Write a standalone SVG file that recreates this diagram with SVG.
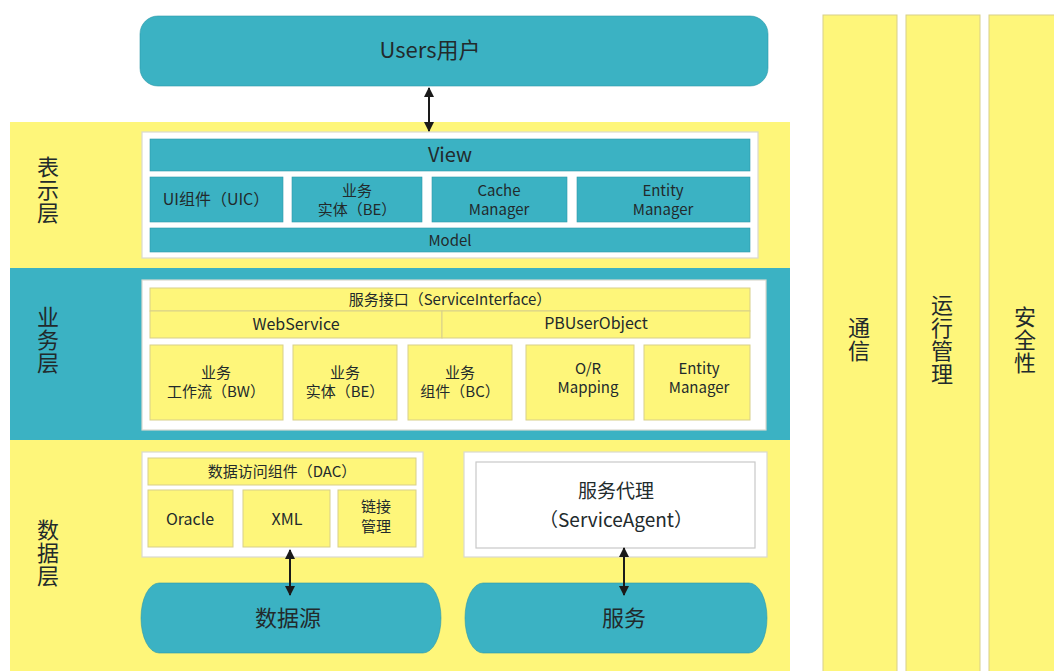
<svg xmlns="http://www.w3.org/2000/svg" width="1054" height="671" viewBox="0 0 1054 671">
<defs>
<marker id="ah" viewBox="0 0 10 10" refX="9" refY="5" markerWidth="10" markerHeight="10" markerUnits="userSpaceOnUse" orient="auto-start-reverse"><path d="M0,0 L10,5 L0,10 z" fill="#1a1a1a"/></marker>
<style>
.y{fill:#FEF67A}
.t{fill:#3BB2C3}
.ty{fill:#FEF67A;stroke:#D8CF8A;stroke-width:1}
.tt{fill:#3BB2C3;stroke:#2E98A8;stroke-width:0.6}
.w{fill:#FFFFFF;stroke:#D9D9CF;stroke-width:1.2}
text{font-family:"Noto Sans CJK SC","Liberation Sans",sans-serif;fill:#222A2C;text-anchor:middle}
.v{writing-mode:vertical-rl;font-size:22px;letter-spacing:1px}
.s15{font-size:15px}
.s16{font-size:16px}
.s19{font-size:19px}
.s20{font-size:20px}
.s22{font-size:22px}
.conn{stroke:#1a1a1a;stroke-width:2;fill:none;marker-start:url(#ah);marker-end:url(#ah)}
</style>
</defs>
<rect width="1054" height="671" fill="#FFFFFF"/>

<g id="layer-presentation">
<rect x="10" y="122" width="780" height="146" class="y"/>
<text class="v" x="48" y="190">表示层</text>
<rect x="142" y="132" width="616" height="126" class="w"/>
</g>
<g id="layer-business">
<rect x="10" y="268" width="780" height="172" class="t"/>
<text class="v" x="48" y="340">业务层</text>
<rect x="142" y="280" width="624" height="150" class="w"/>
</g>
<g id="layer-data">
<rect x="10" y="440" width="780" height="231" class="y"/>
<text class="v" x="48" y="553">数据层</text>
</g>

<g id="users">
<rect x="140" y="16" width="628" height="70" rx="18" class="tt"/>
<text class="s22" x="430" y="58">Users用户</text>
</g>

<g id="view">
<rect x="150" y="139" width="600" height="32" class="tt"/>
<text class="s20" x="450" y="162">View</text>
</g>
<g id="uic">
<rect x="150" y="177" width="133" height="45" class="tt"/>
<text class="s16" x="216" y="205">UI组件（UIC）</text>
</g>
<g id="be1">
<rect x="292" y="177" width="130" height="45" class="tt"/>
<text class="s15" x="357" y="196">业务</text>
<text class="s15" x="357" y="215">实体（BE）</text>
</g>
<g id="cache">
<rect x="432" y="177" width="135" height="45" class="tt"/>
<text class="s15" x="499" y="196">Cache</text>
<text class="s15" x="499" y="215">Manager</text>
</g>
<g id="entity1">
<rect x="577" y="177" width="173" height="45" class="tt"/>
<text class="s15" x="663" y="196">Entity</text>
<text class="s15" x="663" y="215">Manager</text>
</g>
<g id="model">
<rect x="150" y="228" width="600" height="24" class="tt"/>
<text class="s15" x="450" y="246">Model</text>
</g>

<g id="service-interface">
<rect x="150" y="288" width="600" height="23" class="ty"/>
<text class="s15" x="450" y="305">服务接口（ServiceInterface）</text>
</g>
<g id="webservice">
<rect x="150" y="311" width="292" height="27" class="ty"/>
<text class="s16" x="296" y="330">WebService</text>
</g>
<g id="pbuserobject">
<rect x="442" y="311" width="308" height="27" class="ty"/>
<text class="s16" x="596" y="329">PBUserObject</text>
</g>
<g id="bw">
<rect x="150" y="345" width="133" height="75" class="ty"/>
<text class="s15" x="216" y="378">业务</text>
<text class="s15" x="216" y="397">工作流（BW）</text>
</g>
<g id="be2">
<rect x="293" y="345" width="104" height="75" class="ty"/>
<text class="s15" x="345" y="378">业务</text>
<text class="s15" x="345" y="397">实体（BE）</text>
</g>
<g id="bc">
<rect x="408" y="345" width="104" height="75" class="ty"/>
<text class="s15" x="460" y="378">业务</text>
<text class="s15" x="460" y="397">组件（BC）</text>
</g>
<g id="or">
<rect x="526" y="345" width="108" height="75" class="ty"/>
<text class="s15" x="588" y="374">O/R</text>
<text class="s15" x="588" y="393">Mapping</text>
</g>
<g id="entity2">
<rect x="644" y="345" width="106" height="75" class="ty"/>
<text class="s15" x="699" y="374">Entity</text>
<text class="s15" x="699" y="393">Manager</text>
</g>

<g id="dac">
<rect x="142" y="452" width="281" height="105" class="w"/>
<rect x="148" y="458" width="268" height="27" class="ty"/>
<text class="s15" x="282" y="477">数据访问组件（DAC）</text>
</g>
<g id="oracle">
<rect x="148" y="490" width="85" height="57" class="ty"/>
<text class="s16" x="190" y="525">Oracle</text>
</g>
<g id="xml">
<rect x="243" y="490" width="87" height="57" class="ty"/>
<text class="s16" x="287" y="525">XML</text>
</g>
<g id="link">
<rect x="338" y="490" width="78" height="57" class="ty"/>
<text class="s15" x="376" y="512">链接</text>
<text class="s15" x="376" y="532">管理</text>
</g>
<g id="service-agent">
<rect x="464" y="452" width="303" height="105" class="w"/>
<rect x="476" y="462" width="279" height="86" fill="#FFFFFF" stroke="#C9C9C9" stroke-width="1.2"/>
<text class="s19" x="616" y="498">服务代理</text>
<text class="s19" x="616" y="527">（ServiceAgent）</text>
</g>
<g id="datasource">
<rect x="141" y="583" width="300" height="70" rx="18" ry="35" class="tt"/>
<text class="s22" x="288" y="626">数据源</text>
</g>
<g id="service">
<rect x="465" y="583" width="302" height="70" rx="18" ry="35" class="tt"/>
<text class="s22" x="624" y="626">服务</text>
</g>

<g id="col-comm">
<rect x="823" y="15" width="74" height="660" class="ty"/>
<text class="v" x="859" y="340">通信</text>
</g>
<g id="col-ops">
<rect x="906" y="15" width="74" height="660" class="ty"/>
<text class="v" x="942" y="340">运行管理</text>
</g>
<g id="col-sec">
<rect x="989" y="15" width="74" height="660" class="ty"/>
<text class="v" x="1025" y="340">安全性</text>
</g>

<g id="connectors">
<line x1="429" y1="88" x2="429" y2="131" class="conn"/>
<line x1="290" y1="550" x2="290" y2="595" class="conn"/>
<line x1="624" y1="548" x2="624" y2="595" class="conn"/>
</g>
</svg>
